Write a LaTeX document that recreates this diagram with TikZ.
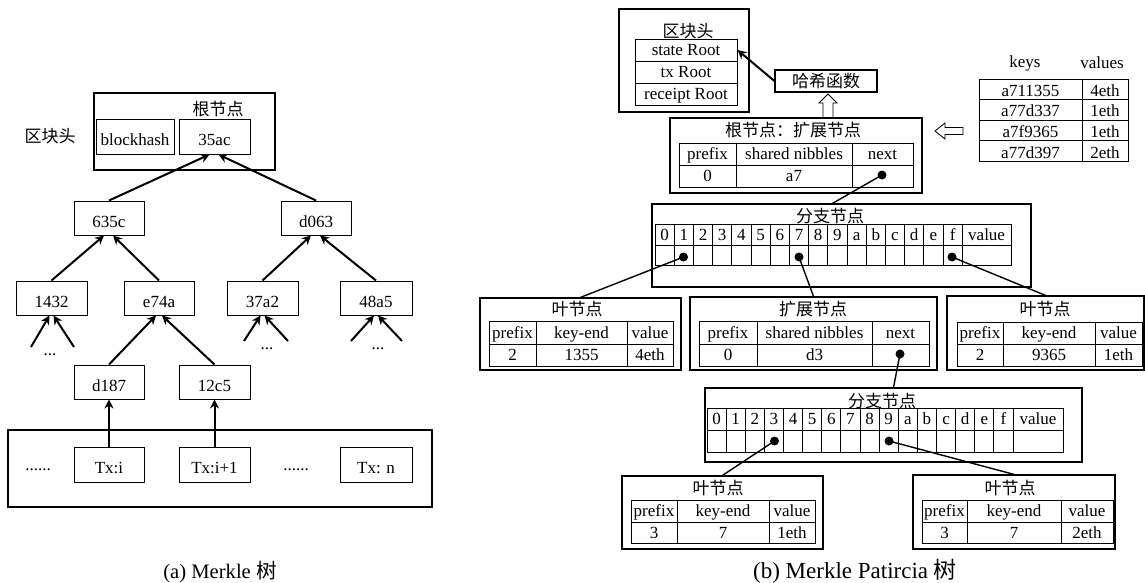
\documentclass[tikz,border=0pt]{standalone}
\usepackage{fontspec}
\setmainfont{Liberation Serif}
\newfontfamily\cjk{Noto Sans CJK SC}
\usetikzlibrary{arrows.meta,calc}
\newcommand\bx[7]{\node[#1, minimum width={((#5)-(#3))*1pt}, minimum height={((#6)-(#4))*1pt}] (#2) at ({((#3)+(#5))/2},{((#4)+(#6))/2}) {#7};}
\tikzset{
  abox/.style={draw, line width=1pt, inner sep=0pt, text height=18pt, text depth=0pt},
  outerbox/.style={draw, line width=1.2pt, inner sep=0pt},
  cellbox/.style={draw, line width=0.9pt, inner sep=0pt, text height=12pt, text depth=1pt},
  kvbox/.style={draw, line width=0.9pt, inner sep=0pt, text height=15pt, text depth=0pt},
  arr/.style={line width=2pt, -{Stealth[length=9pt,width=9pt]}},
  link/.style={line width=1.4pt},
  bullet/.style={circle, fill=black, inner sep=0pt, minimum size=9pt},
  lbl/.style={inner sep=0pt},
  hollow/.style={draw, line width=0.8pt, fill=white, line join=miter},
}
\begin{document}
\begin{tikzpicture}[x=1pt,y=-1pt,font=\fontsize{17pt}{20pt}\selectfont]
\useasboundingbox (0,0) rectangle (1145,583);
\fill[white] (0,0) rectangle (1145,583);

% ================= (a) Merkle tree =================
\node[lbl] (hdrlabel) at (50,136) {\cjk 区块头};
\bx{outerbox}{hdrA}{94}{93}{275}{170}{}
\node[lbl] (roottitle) at (218,109) {\cjk 根节点};
\bx{abox}{bh}{96}{120}{174}{154}{blockhash}
\bx{abox}{n35ac}{179}{120}{250}{154}{35ac}
\bx{abox}{n635c}{74}{201}{144}{235}{635c}
\bx{abox}{nd063}{281}{201}{351}{235}{d063}
\bx{abox}{n1432}{16}{281}{87}{315}{1432}
\bx{abox}{ne74a}{124}{281}{194}{315}{e74a}
\bx{abox}{n37a2}{227}{281}{298}{315}{37a2}
\bx{abox}{n48a5}{340}{281}{412}{315}{48a5}
\bx{abox}{nd187}{74}{365}{144}{399}{d187}
\bx{abox}{n12c5}{179}{365}{250}{399}{12c5}
\bx{outerbox}{txbox}{8}{430}{432}{507}{}
\bx{abox}{txi}{74}{447}{144}{482}{Tx:i}
\bx{abox}{txii}{179}{447}{250}{482}{Tx:i+1}
\bx{abox}{txn}{340}{447}{412}{482}{Tx: n}
\node[lbl] (dotsA) at (38,470) {......};
\node[lbl] (dotsB) at (296,470) {......};
\node[lbl] (d1) at (50,355) {...};
\node[lbl] (d2) at (267,349) {...};
\node[lbl] (d3) at (378,349) {...};

\coordinate (s1a) at (31,347); \coordinate (s1b) at (74,347);
\coordinate (s2a) at (244,341); \coordinate (s2b) at (288,341);
\coordinate (s3a) at (351,341); \coordinate (s3b) at (402,341);

\draw[arr] (n635c.north) -- ([xshift=-5pt]n35ac.south);
\draw[arr] (nd063.north) -- ([xshift=4pt]n35ac.south);
\draw[arr] (n1432.north) -- ([xshift=-5pt]n635c.south);
\draw[arr] (ne74a.north) -- ([xshift=4pt]n635c.south);
\draw[arr] (n37a2.north) -- ([xshift=-5pt]nd063.south);
\draw[arr] (n48a5.north) -- ([xshift=4pt]nd063.south);
\draw[arr] (nd187.north) -- ([xshift=-3pt]ne74a.south);
\draw[arr] (n12c5.north) -- ([xshift=3pt]ne74a.south);
\draw[arr] (s1a) -- ([xshift=-2pt]n1432.south);
\draw[arr] (s1b) -- ([xshift=2pt]n1432.south);
\draw[arr] (s2a) -- ([xshift=-2pt]n37a2.south);
\draw[arr] (s2b) -- ([xshift=2pt]n37a2.south);
\draw[arr] (s3a) -- ([xshift=-2pt]n48a5.south);
\draw[arr] (s3b) -- ([xshift=2pt]n48a5.south);
\draw[arr] (txi.north) -- (nd187.south);
\draw[arr] (txii.north) -- (n12c5.south);

\node[lbl, font=\fontsize{20.6pt}{24pt}\selectfont] (capA) at (220,572) {(a) Merkle {\cjk 树}};

% ================= (b) Merkle Patricia tree =================
% block header
\bx{outerbox}{hdrB}{619}{9}{749}{112}{}
\node[lbl] (hdrBt) at (688,31) {\cjk 区块头};
\bx{cellbox}{sr}{635}{39}{737}{61}{state Root}
\bx{cellbox}{tr}{635}{61}{737}{83}{tx Root}
\bx{cellbox}{rr}{635}{83}{737}{105}{receipt Root}
\bx{outerbox}{hash}{775}{70}{877}{92}{\cjk 哈希函数}
\draw[arr] (hash.west) -- (sr.east);

% keys / values
\node[lbl] (kh) at (1025,63) {keys};
\node[lbl] (vh) at (1102,63) {values};
\bx{kvbox}{k1}{979}{79}{1082}{99}{a711355}
\bx{kvbox}{v1}{1082}{79}{1128}{99}{4eth}
\bx{kvbox}{k2}{979}{99}{1082}{120}{a77d337}
\bx{kvbox}{v2}{1082}{99}{1128}{120}{1eth}
\bx{kvbox}{k3}{979}{120}{1082}{140}{a7f9365}
\bx{kvbox}{v3}{1082}{120}{1128}{140}{1eth}
\bx{kvbox}{k4}{979}{140}{1082}{161}{a77d397}
\bx{kvbox}{v4}{1082}{140}{1128}{161}{2eth}

% hollow arrows
\draw[hollow] (935,131) -- (945,123) -- (945,127.5) -- (963,127.5) -- (963,134.5) -- (945,134.5) -- (945,139) -- cycle;
\draw[hollow] (828,94) -- (837,103) -- (833,103) -- (833,118) -- (823,118) -- (823,103) -- (819,103) -- cycle;

% root extension node
\bx{outerbox}{rootext}{670}{118}{922}{193}{}
\node[lbl] (rootextt) at (793,130) {\cjk 根节点：扩展节点};
\bx{cellbox}{re1}{679}{143}{736}{165}{prefix}
\bx{cellbox}{re2}{736}{143}{852}{165}{shared nibbles}
\bx{cellbox}{re3}{852}{143}{913}{165}{next}
\bx{cellbox}{re4}{679}{165}{736}{187}{0}
\bx{cellbox}{re5}{736}{165}{852}{187}{a7}
\bx{cellbox}{re6}{852}{165}{913}{187}{}
\node[bullet] (rdot) at (882,175) {};

% branch node 1
\bx{outerbox}{br1}{652}{204}{1031}{287}{}
\node[lbl] (br1t) at (830,216) {\cjk 分支节点};
\foreach \l [count=\i from 0] in {0,1,2,3,4,5,6,7,8,9,a,b,c,d,e,f}{
  \bx{cellbox}{b1h\i}{655+\i*19.2}{224}{655+(\i+1)*19.2}{245}{\l}
  \bx{cellbox}{b1d\i}{655+\i*19.2}{245}{655+(\i+1)*19.2}{265}{}
}
\bx{cellbox}{b1hv}{962.2}{224}{1011}{245}{value}
\bx{cellbox}{b1dv}{962.2}{245}{1011}{265}{}
\node[bullet] (b1dot1) at (683.5,257) {};
\node[bullet] (b1dot7) at (799,257) {};
\node[bullet] (b1dotf) at (952,257) {};

% leaf A
\bx{outerbox}{leafA}{480}{298}{681}{370}{}
\node[lbl] (leafAt) at (577,309) {\cjk 叶节点};
\bx{cellbox}{la1}{489}{321}{536}{344}{prefix}
\bx{cellbox}{la2}{536}{321}{627}{344}{key-end}
\bx{cellbox}{la3}{627}{321}{673}{344}{value}
\bx{cellbox}{la4}{489}{344}{536}{366}{2}
\bx{cellbox}{la5}{536}{344}{627}{366}{1355}
\bx{cellbox}{la6}{627}{344}{673}{366}{4eth}

% extension node B
\bx{outerbox}{extB}{690}{297}{937}{370}{}
\node[lbl] (extBt) at (813,309) {\cjk 扩展节点};
\bx{cellbox}{eb1}{699}{321}{757}{344}{prefix}
\bx{cellbox}{eb2}{757}{321}{872}{344}{shared nibbles}
\bx{cellbox}{eb3}{872}{321}{929}{344}{next}
\bx{cellbox}{eb4}{699}{344}{757}{366}{0}
\bx{cellbox}{eb5}{757}{344}{872}{366}{d3}
\bx{cellbox}{eb6}{872}{344}{929}{366}{}
\node[bullet] (edot) at (900,354) {};

% leaf C
\bx{outerbox}{leafC}{947}{296}{1144}{370}{}
\node[lbl] (leafCt) at (1045,309) {\cjk 叶节点};
\bx{cellbox}{lc1}{957}{322}{1003}{344}{prefix}
\bx{cellbox}{lc2}{1003}{322}{1095}{344}{key-end}
\bx{cellbox}{lc3}{1095}{322}{1142}{344}{value}
\bx{cellbox}{lc4}{957}{344}{1003}{366}{2}
\bx{cellbox}{lc5}{1003}{344}{1095}{366}{9365}
\bx{cellbox}{lc6}{1095}{344}{1142}{366}{1eth}

% branch node 2
\bx{outerbox}{br2}{705}{388}{1082}{462}{}
\node[lbl] (br2t) at (882,401) {\cjk 分支节点};
\foreach \l [count=\i from 0] in {0,1,2,3,4,5,6,7,8,9,a,b,c,d,e,f}{
  \bx{cellbox}{b2h\i}{707+\i*19.125}{408}{707+(\i+1)*19.125}{430}{\l}
  \bx{cellbox}{b2d\i}{707+\i*19.125}{430}{707+(\i+1)*19.125}{452}{}
}
\bx{cellbox}{b2hv}{1013}{408}{1063}{430}{value}
\bx{cellbox}{b2dv}{1013}{430}{1063}{452}{}
\node[bullet] (b2dot3) at (774.5,441) {};
\node[bullet] (b2dot9) at (889,441) {};

% leaf D
\bx{outerbox}{leafD}{622}{476}{823}{549}{}
\node[lbl] (leafDt) at (718,488) {\cjk 叶节点};
\bx{cellbox}{ld1}{631}{500}{677}{522}{prefix}
\bx{cellbox}{ld2}{677}{500}{769}{522}{key-end}
\bx{cellbox}{ld3}{769}{500}{815}{522}{value}
\bx{cellbox}{ld4}{631}{522}{677}{543}{3}
\bx{cellbox}{ld5}{677}{522}{769}{543}{7}
\bx{cellbox}{ld6}{769}{522}{815}{543}{1eth}

% leaf E
\bx{outerbox}{leafE}{913}{475}{1115}{549}{}
\node[lbl] (leafEt) at (1010,488) {\cjk 叶节点};
\bx{cellbox}{le1}{922}{500}{967}{522}{prefix}
\bx{cellbox}{le2}{967}{500}{1061}{522}{key-end}
\bx{cellbox}{le3}{1061}{500}{1113}{522}{value}
\bx{cellbox}{le4}{922}{522}{967}{543}{3}
\bx{cellbox}{le5}{967}{522}{1061}{543}{7}
\bx{cellbox}{le6}{1061}{522}{1113}{543}{2eth}

% connectors
\draw[link] (rdot.center) -- ([xshift=-9pt]br1.north);
\draw[link] (b1dot1.center) -- (leafA.north);
\draw[link] (b1dot7.center) -- (extB.north);
\draw[link] (b1dotf.center) -- (leafC.north);
\draw[link] (edot.center) -- (br2.north);
\draw[link] (b2dot3.center) -- (leafD.north);
\draw[link] (b2dot9.center) -- (leafE.north);

\node[lbl, font=\fontsize{23pt}{26pt}\selectfont] (capB) at (855,571) {(b) Merkle Patircia {\cjk 树}};
\end{tikzpicture}
\end{document}
